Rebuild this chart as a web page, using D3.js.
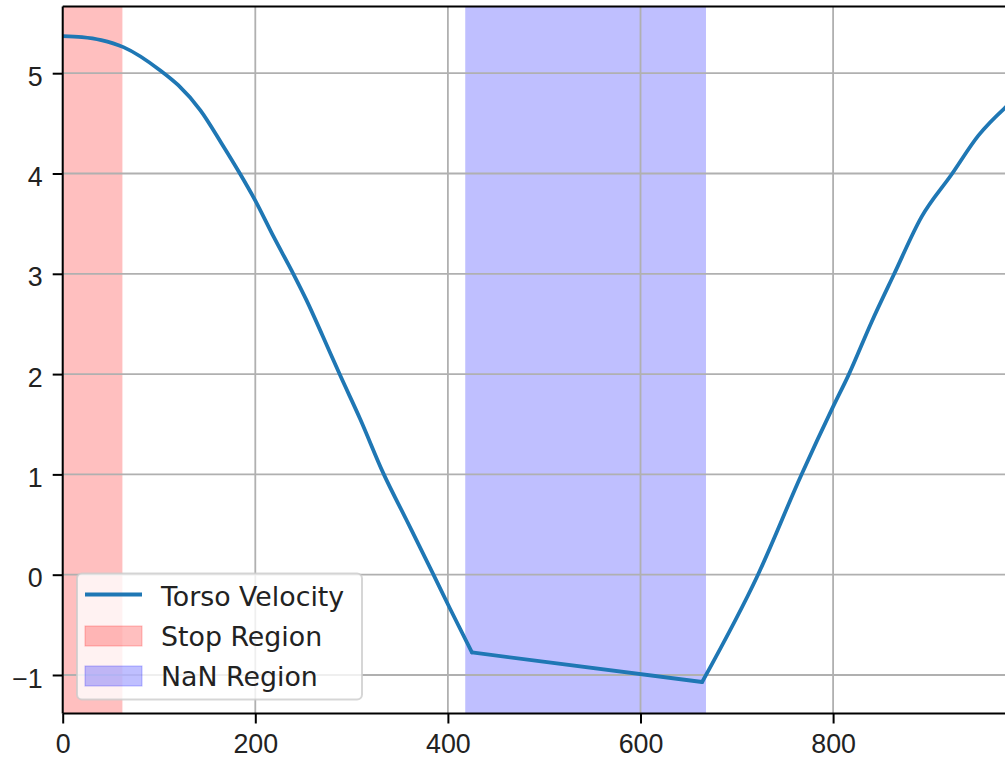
<!DOCTYPE html>
<html lang="en">
<head>
    <meta charset="UTF-8">
    <title>Torso Velocity</title>
    <style>
        body { margin: 0; background: #fff; }
        svg { display: block; font-family: "DejaVu Sans", sans-serif; }
    </style>
</head>
<body>

    <div id="chart"></div>

    <script src="https://d3js.org/d3.v7.min.js"></script>

    <script>

// data
let frames   = [0, 20, 40, 63, 101, 120, 143, 165, 184, 200, 219, 240, 253, 270, 288, 309, 333, 357, 385, 402, 425,
                664, 722, 767, 800, 816, 840, 863, 892, 923, 951, 978, 990];
let velocity = [5.37, 5.36, 5.33, 5.26, 5.03, 4.88, 4.63, 4.30, 4.00, 3.73, 3.37, 2.99, 2.74, 2.38, 1.99, 1.55, 1.01, 0.545, 0.0, -0.335, -0.775,
                -1.07, 0.0, 0.994, 1.675, 1.99, 2.52, 2.99, 3.57, 3.99, 4.38, 4.65, 4.75];

let stopRegion = [0, 62];
let nanRegion  = [418, 668];
// frames bounding the straight stretch across the NaN region
let gapFrom = 425, gapTo = 664;

let xTicks = [0, 200, 400, 600, 800];
let yTicks = [-1, 0, 1, 2, 3, 4, 5];

let legendItems = ['Torso Velocity', 'Stop Region', 'NaN Region'];

let W = 1005, H = 761;
let padLeft = 62.7, padTop = 6.5, padBottom = 713.5;
let fontSize = '26.8px';

let data = frames.map(function(f, i){ return { x: f, y: velocity[i] } });

let svg = d3.select('#chart')
            .append('svg')
            .attr('width', W)
            .attr('height', H);

let x = d3.scaleLinear()
          .domain([0, 980])
          .range([padLeft, padLeft + 980 * 0.963]);

let y = d3.scaleLinear()
          .domain([-1.384, 5.665])
          .range([padBottom, padTop]);

svg.append('defs').append('clipPath')
   .attr('id', 'plot')
   .append('rect')
   .attr('x', padLeft).attr('y', padTop)
   .attr('width', W - padLeft).attr('height', padBottom - padTop);

let plot = svg.append('g').attr('clip-path', 'url(#plot)');

// spans
plot.append('rect')
    .attr('x', x(stopRegion[0]))
    .attr('width', x(stopRegion[1]) - x(stopRegion[0]))
    .attr('y', padTop).attr('height', padBottom - padTop)
    .attr('fill', 'red').attr('fill-opacity', 0.25);

plot.append('rect')
    .attr('x', x(nanRegion[0]))
    .attr('width', x(nanRegion[1]) - x(nanRegion[0]))
    .attr('y', padTop).attr('height', padBottom - padTop)
    .attr('fill', 'blue').attr('fill-opacity', 0.25);

// grid
plot.selectAll('.gx')
    .data(xTicks)
    .enter()
    .append('line')
    .attr('x1', function(d){ return x(d) }).attr('x2', function(d){ return x(d) })
    .attr('y1', padTop).attr('y2', padBottom)
    .attr('stroke', '#b0b0b0').attr('stroke-width', 1.8);

plot.selectAll('.gy')
    .data(yTicks)
    .enter()
    .append('line')
    .attr('x1', padLeft).attr('x2', W)
    .attr('y1', function(d){ return y(d) }).attr('y2', function(d){ return y(d) })
    .attr('stroke', '#b0b0b0').attr('stroke-width', 1.8);

// line: smooth before and after the gap, straight across it
let smooth = d3.line()
               .x(function(d){ return x(d.x) })
               .y(function(d){ return y(d.y) })
               .curve(d3.curveMonotoneX);
let straight = d3.line()
                 .x(function(d){ return x(d.x) })
                 .y(function(d){ return y(d.y) });

let pieces = [
    { pts: data.filter(function(d){ return d.x <= gapFrom }), gen: smooth },
    { pts: data.filter(function(d){ return d.x >= gapFrom && d.x <= gapTo }), gen: straight },
    { pts: data.filter(function(d){ return d.x >= gapTo }), gen: smooth }
];

plot.selectAll('.velocity')
    .data(pieces)
    .enter()
    .append('path')
    .attr('fill', 'none')
    .attr('stroke', '#1f77b4')
    .attr('stroke-width', 3.8)
    .attr('stroke-linejoin', 'round')
    .attr('stroke-linecap', 'round')
    .attr('d', function(p){ return p.gen(p.pts) });

// axes
let axeX = d3.axisBottom(x).tickValues(xTicks).tickSize(10).tickPadding(10).tickSizeOuter(0);
let gx = svg.append('g')
            .attr('transform', `translate(0, ${padBottom})`)
            .call(axeX);
gx.select('.domain').remove();
gx.selectAll('line').attr('stroke', '#000').attr('stroke-width', 2);
gx.selectAll('text')
  .attr('fill', '#222')
  .style('font-size', fontSize)
  .attr('dy', '0.72em');

let axeY = d3.axisLeft(y).tickValues(yTicks).tickFormat(d3.format('d'))
             .tickSize(10).tickPadding(10).tickSizeOuter(0);
let gy = svg.append('g')
            .attr('transform', `translate(${padLeft}, 0)`)
            .call(axeY);
gy.select('.domain').remove();
gy.selectAll('line').attr('stroke', '#000').attr('stroke-width', 2);
gy.selectAll('text')
  .attr('fill', '#222')
  .style('font-size', fontSize)
  .attr('dy', '0.45em');

// spines
svg.append('line').attr('x1', padLeft).attr('x2', W).attr('y1', padTop).attr('y2', padTop)
   .attr('stroke', '#000').attr('stroke-width', 2);
svg.append('line').attr('x1', padLeft).attr('x2', W).attr('y1', padBottom).attr('y2', padBottom)
   .attr('stroke', '#000').attr('stroke-width', 2);
svg.append('line').attr('x1', padLeft).attr('x2', padLeft).attr('y1', padTop).attr('y2', padBottom)
   .attr('stroke', '#000').attr('stroke-width', 2);

// legend
let legend = svg.append('g').attr('transform', 'translate(77, 573.5)');

legend.append('rect')
      .attr('width', 285).attr('height', 126)
      .attr('rx', 5)
      .attr('fill', '#fff').attr('fill-opacity', 0.8)
      .attr('stroke', '#ccc').attr('stroke-opacity', 0.8).attr('stroke-width', 2);

legend.append('line')
      .attr('x1', 8).attr('x2', 65).attr('y1', 21).attr('y2', 21)
      .attr('stroke', '#1f77b4').attr('stroke-width', 3.8);

legend.append('rect')
      .attr('x', 8).attr('y', 52.5).attr('width', 57).attr('height', 20)
      .attr('fill', 'red').attr('fill-opacity', 0.25)
      .attr('stroke', 'red').attr('stroke-opacity', 0.25);

legend.append('rect')
      .attr('x', 8).attr('y', 92.5).attr('width', 57).attr('height', 20)
      .attr('fill', 'blue').attr('fill-opacity', 0.25)
      .attr('stroke', 'blue').attr('stroke-opacity', 0.25);

legend.selectAll('text')
      .data(legendItems)
      .enter()
      .append('text')
      .attr('x', 84)
      .attr('y', function(d, i){ return 32 + i * 40 })
      .attr('fill', '#222')
      .style('font-size', fontSize)
      .text(function(d){ return d });

    </script>
</body>
</html>
